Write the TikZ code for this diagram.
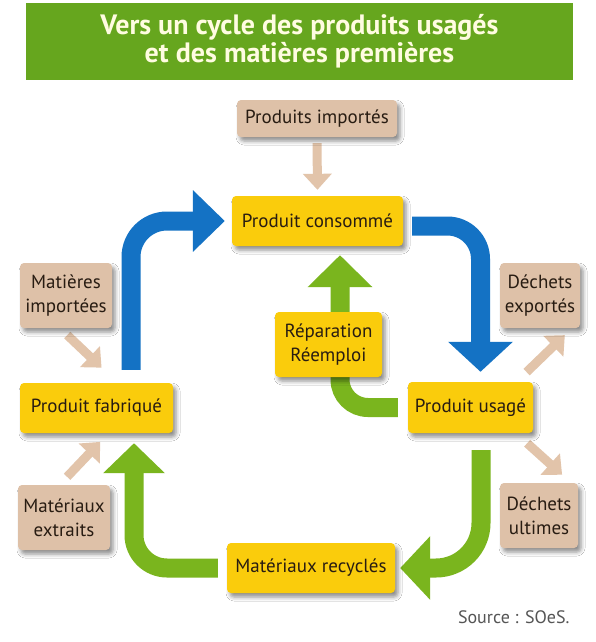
\documentclass[tikz,border=0pt]{standalone}
\usepackage{fontspec}
\setmainfont{PT Sans}
\usetikzlibrary{arrows.meta,shadows.blur,backgrounds}
\definecolor{boxyellow}{RGB}{250,204,12}
\definecolor{boxtan}{RGB}{222,193,168}
\definecolor{arrowtan}{RGB}{226,196,170}
\definecolor{arrowgreen}{RGB}{122,181,30}
\definecolor{titlegreen}{RGB}{102,166,30}
\definecolor{titletext}{RGB}{255,252,225}
\definecolor{arrowblue}{RGB}{20,114,196}
\definecolor{textdark}{RGB}{40,28,18}
\definecolor{sourcegray}{RGB}{85,85,85}
\newcommand\myboxfont{\fontsize{19}{24}\selectfont}
\newcommand\mytitlefont{\fontsize{28}{28}\selectfont\bfseries}
\begin{document}
\begin{tikzpicture}[x=1pt,y=-1pt,
  basebox/.style={rounded corners=4pt, inner sep=0pt, align=center,
    font=\myboxfont, text=textdark,
    blur shadow={shadow xshift=3pt, shadow yshift=-4pt, shadow blur radius=4pt, shadow opacity=45}},
  ybox/.style={basebox, fill=boxyellow},
  tbox/.style={basebox, fill=boxtan},
  tanarrow/.style={draw=arrowtan, line width=9pt, -{Triangle[width=28pt,length=16pt]}},
  bluearrow/.style={draw=arrowblue, line width=19pt},
  greenarrow/.style={draw=arrowgreen, line width=19pt}
]
\useasboundingbox (0,0) rectangle (596,642);

\node[fill=titlegreen, minimum width=547pt, minimum height=77pt, inner sep=0pt,
  text=titletext, font=\mytitlefont, align=center] (title) at (299.5,41.5)
  {Vers un cycle des produits usagés\\et des matières premières};

\node[tbox, minimum width=160pt, minimum height=37pt] (imp) at (317,118.5) {Produits importés};
\node[ybox, minimum width=171pt, minimum height=50pt] (cons) at (317.5,221) {Produit consommé};
\node[ybox, minimum width=153pt, minimum height=50pt] (fab) at (96.5,408) {Produit fabriqué};
\node[ybox, minimum width=125pt, minimum height=51pt] (usage) at (470.5,407.5) {Produit usagé};
\node[ybox, minimum width=168pt, minimum height=50pt] (recy) at (311,568) {Matériaux recyclés};
\node[ybox, minimum width=107pt, minimum height=65pt] (rep) at (328.5,344.5) {Réparation\\Réemploi};
\node[tbox, minimum width=92pt, minimum height=65pt] (mimp) at (66,295.5) {Matières\\importées};
\node[tbox, minimum width=92pt, minimum height=65pt] (extr) at (64,517.5) {Matériaux\\extraits};
\node[tbox, minimum width=80pt, minimum height=65pt] (dexp) at (540,295.5) {Déchets\\exportés};
\node[tbox, minimum width=78pt, minimum height=65pt] (dult) at (539,515.5) {Déchets\\ultimes};

\node[text=sourcegray, font=\fontsize{18}{20}\selectfont, anchor=east] (src) at (573,617) {Source : SOeS.};

\begin{scope}[on background layer]
  \fill[white] (0,0) rectangle (596,642);
  % blue arrows
  \draw[bluearrow, rounded corners=36pt, shorten <=13pt, -{Triangle[width=60pt,length=32pt]}, shorten >=7pt]
    ([xshift=34.5pt]fab.north) |- (cons.west);
  \draw[bluearrow, rounded corners=33pt, shorten <=9pt, -{Triangle[width=63pt,length=30pt]}, shorten >=10pt]
    ([yshift=-5pt]cons.east) -| ([xshift=10pt]usage.north);
  % green arrows
  \draw[greenarrow, rounded corners=45pt, shorten <=17pt, -{Triangle[width=62pt,length=30pt]}, shorten >=5pt]
    ([xshift=10.5pt]usage.south) |- (recy.east);
  \draw[greenarrow, rounded corners=33pt, shorten <=9pt, -{Triangle[width=60pt,length=30pt]}, shorten >=10pt]
    (recy.west) -| ([xshift=37.5pt]fab.south);
  \draw[greenarrow, rounded corners=28pt, shorten <=10pt, -{Triangle[width=63pt,length=32pt]}, shorten >=9pt]
    (usage.west) -| ([xshift=22.5pt]cons.south);
  % tan arrows
  \draw[tanarrow, shorten <=6pt, shorten >=6pt] (imp.south) -- (cons.north);
  \draw[tanarrow, shorten <=10pt, shorten >=22pt] ([xshift=-6pt]mimp.south) -- ([xshift=21pt]fab.north);
  \draw[tanarrow, shorten <=11pt, shorten >=12pt] ([xshift=-4.5pt]extr.north) -- ([xshift=12pt]fab.south);
  \draw[tanarrow, shorten <=14pt, shorten >=10pt] ([xshift=46pt]usage.north) -- ([xshift=32pt]dexp.south);
  \draw[tanarrow, shorten <=15pt, shorten >=12pt] ([xshift=45.5pt]usage.south) -- ([xshift=32pt]dult.north);
\end{scope}
\end{tikzpicture}
\end{document}
